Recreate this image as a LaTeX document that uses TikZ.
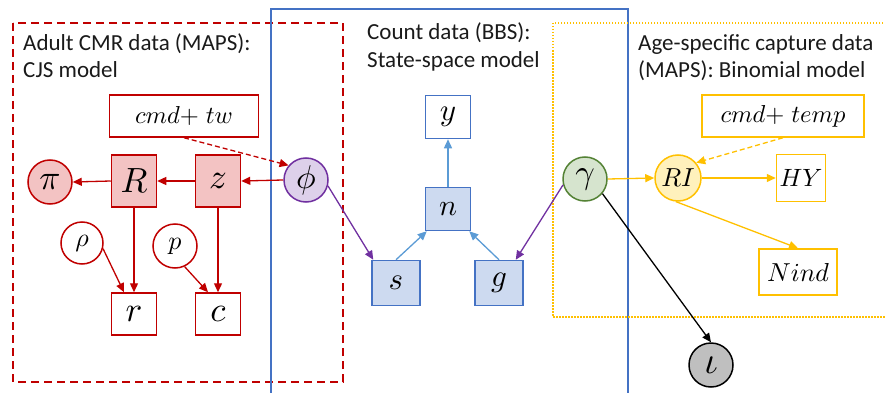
\documentclass[tikz,border=0pt]{standalone}
\usepackage{graphicx}
\usepackage{fontspec}
\setmainfont{Carlito}
\usetikzlibrary{arrows.meta,calc}

\definecolor{cmrred}{HTML}{C00000}
\definecolor{cmrfill}{HTML}{F3C3C3}
\definecolor{bbsblue}{HTML}{4472C4}
\definecolor{bbsfill}{HTML}{CDDAF0}
\definecolor{bbsarrow}{HTML}{5B9BD5}
\definecolor{phiborder}{HTML}{7030A0}
\definecolor{phifill}{HTML}{DDD0EA}
\definecolor{gamborder}{HTML}{548235}
\definecolor{gamfill}{HTML}{D6E4CE}
\definecolor{mapsyellow}{HTML}{FFC000}
\definecolor{rifill}{HTML}{FFF1BC}
\definecolor{iotafill}{HTML}{BFBFBF}
\definecolor{labeltext}{HTML}{1A1A1A}

% math symbol set at 10pt and enlarged by a factor
\newcommand{\bigsym}[2]{\scalebox{#1}{$#2$}}

\tikzset{
  frametext/.style={align=left, anchor=base west, inner sep=0pt, text=labeltext,
    font=\fontsize{23}{28}\selectfont},
  redfilled/.style={draw=cmrred, fill=cmrfill, line width=1.5pt, minimum width=45pt, minimum height=52pt, inner sep=0pt},
  redplain/.style={draw=cmrred, fill=white, line width=1.5pt, minimum width=45pt, minimum height=42pt, inner sep=0pt},
  redcirc/.style={circle, draw=cmrred, line width=1.5pt, minimum size=44pt, inner sep=0pt},
  bluebox/.style={draw=bbsblue, fill=bbsfill, line width=1.5pt, minimum width=48pt, minimum height=45pt, inner sep=0pt},
  yellowbox/.style={draw=mapsyellow, fill=white, line width=1.5pt, inner sep=0pt},
  redarrow/.style={draw=cmrred, line width=1.3pt, -{Triangle[length=9pt,width=8pt]}},
  bluearrow/.style={draw=bbsarrow, line width=1.3pt, -{Triangle[length=9pt,width=8pt]}},
  purplearrow/.style={draw=phiborder, line width=1.3pt, -{Triangle[length=9pt,width=8pt]}},
  yellowarrow/.style={draw=mapsyellow, line width=1.3pt, -{Triangle[length=9pt,width=8pt]}},
  blackarrow/.style={draw=black, line width=1.3pt, -{Triangle[length=9pt,width=8pt]}},
}

\begin{document}
\begin{tikzpicture}[x=1pt,y=-1pt]
\useasboundingbox (0,0) rectangle (885,393);

% model frames
\draw[cmrred, line width=1.6pt, dash pattern=on 8pt off 5pt] (13,23) rectangle (343,382);
\draw[bbsblue, line width=1.6pt] (271,400) -- (271,9) -- (628,9) -- (628,400);
\draw[mapsyellow, line width=1.5pt, dash pattern=on 1.5pt off 1.5pt] (892,23) -- (553,23) -- (553,317) -- (892,317);

% frame titles (anchored at the baseline of their last line)
\node[frametext] (cmrtitle) at (23,78) {Adult CMR data (MAPS):\\CJS model};
\node[frametext] (bbstitle) at (367,68) {Count data (BBS):\\State-space model};
\node[frametext] (mapstitle) at (638,78) {Age-specific capture data\\(MAPS): Binomial model};

% CJS model
\node[redplain, minimum width=149pt] (cmdtw) at (184,116) {\bigsym{2.45}{cmd{+}\;tw}};
\node[redcirc, fill=cmrfill] (pi) at (50,182) {\bigsym{3.5}{\pi}};
\node[redfilled] (R) at (134,181) {\bigsym{3.5}{R}};
\node[redfilled] (z) at (218,181) {\bigsym{3.5}{z}};
\node[redcirc, minimum size=42pt, fill=white] (rho) at (82,243) {\bigsym{2.6}{\rho}};
\node[redcirc, minimum size=44pt, fill=white] (p) at (175,246) {\bigsym{2.6}{p}};
\node[redplain] (r) at (134,314) {\bigsym{3.5}{r}};
\node[redplain] (c) at (218,314) {\bigsym{3.5}{c}};

% shared parameters
\node[circle, draw=phiborder, fill=phifill, line width=1.5pt, minimum size=44pt, inner sep=0pt] (phi) at (306,180) {\bigsym{3.3}{\phi}};
\node[circle, draw=gamborder, fill=gamfill, line width=1.5pt, minimum size=44pt, inner sep=0pt] (gamma) at (585,179) {\bigsym{3.4}{\gamma}};

% state-space model
\node[bluebox, fill=white, minimum width=45pt, minimum height=43pt] (y) at (448,117) {\bigsym{3.1}{y}};
\node[bluebox, minimum width=45pt, minimum height=43pt] (n) at (448,209) {\bigsym{3.0}{n}};
\node[bluebox] (s) at (396,283) {\bigsym{3.1}{s}};
\node[bluebox] (g) at (499,283) {\bigsym{3.1}{g}};

% binomial model
\node[yellowbox, minimum width=162pt, minimum height=42pt] (cmdtemp) at (783,116) {\bigsym{2.45}{cmd{+}\;temp}};
\node[circle, draw=mapsyellow, fill=rifill, line width=1.5pt, minimum size=46pt, inner sep=0pt] (RI) at (678,178) {\bigsym{2.6}{RI}};
\node[yellowbox, minimum width=49pt, minimum height=47pt] (HY) at (801,178) {\bigsym{2.5}{HY}};
\node[yellowbox, minimum width=78pt, minimum height=46pt] (Nind) at (798,272) {\bigsym{2.6}{Nind}};

\node[circle, draw=black, fill=iotafill, line width=1.5pt, minimum size=44pt, inner sep=0pt] (iota) at (711,365) {\bigsym{3.8}{\iota}};

% connectors
\draw[redarrow, dash pattern=on 5pt off 3pt] (cmdtw.south) -- (phi.140);
\draw[redarrow] (phi.west) -- (z.east);
\draw[redarrow] (z.west) -- (R.east);
\draw[redarrow] (R.west) -- (pi.east);
\draw[redarrow] (R.south) -- (r.north);
\draw[redarrow] (z.south) -- (c.north);
\draw[redarrow] (rho.-15) -- ($(r.north)+(-10,0)$);
\draw[redarrow] (p.-65) -- ($(c.north)+(-10,0)$);

\draw[purplearrow] (phi.-15) -- ($(s.north west)+(2,0)$);
\draw[purplearrow] (gamma.195) -- ($(g.north east)+(-8,0)$);

\draw[bluearrow] (s.north) -- ($(n.south west)+(2,0)$);
\draw[bluearrow] (g.north) -- ($(n.south east)+(-2,0)$);
\draw[bluearrow] (n.north) -- (y.south);

\draw[yellowarrow] (gamma.east) -- (RI.west);
\draw[yellowarrow] (RI.east) -- (HY.west);
\draw[yellowarrow] (RI.-95) -- (Nind.north);
\draw[yellowarrow, dash pattern=on 5pt off 3pt] (cmdtemp.south) -- (RI.40);

\draw[blackarrow] (gamma.-40) -- (iota.north);
\end{tikzpicture}
\end{document}
